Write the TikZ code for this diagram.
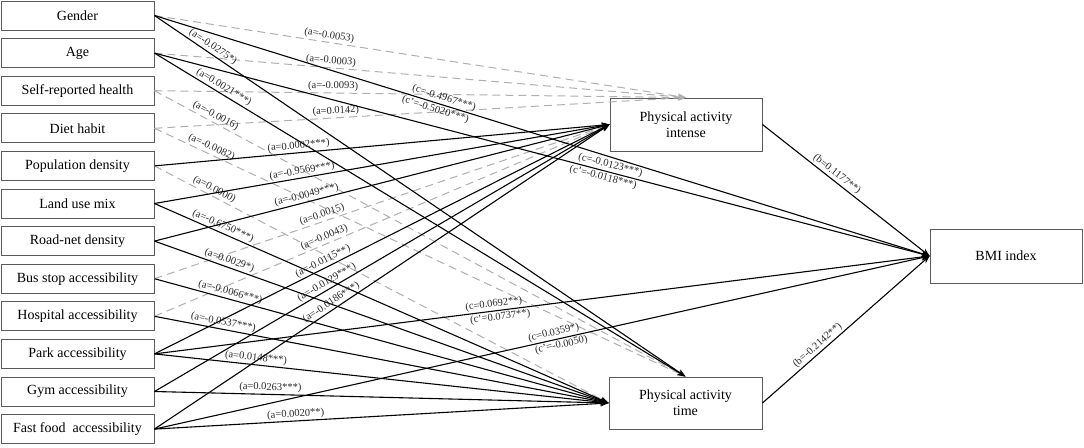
\documentclass[tikz,border=0pt]{standalone}
\usepackage{fontspec}
\setmainfont{Liberation Serif}
\usetikzlibrary{arrows.meta}
\definecolor{dg}{RGB}{175,175,175}
\definecolor{bd}{RGB}{90,90,90}
\definecolor{tx}{RGB}{40,40,40}
\begin{document}
\begin{tikzpicture}[x=1pt,y=-1pt,
 src/.style={draw=bd,line width=0.9pt,minimum width=153pt,minimum height=29pt,inner sep=0pt,font=\fontsize{14}{16}\selectfont},
 tgt/.style={draw=bd,line width=0.9pt,minimum width=152pt,minimum height=53pt,inner sep=0pt,align=center,font=\fontsize{14}{16}\selectfont},
 sol/.style={draw=black,line width=1.1pt,-{Stealth[length=8pt,width=6pt]}},
 dsh/.style={draw=dg,line width=1pt,dash pattern=on 8pt off 5pt,-{Stealth[length=8pt,width=6pt]}},
 lab/.style={font=\fontsize{10.5}{12}\selectfont,text=tx,sloped,inner sep=1.5pt}]
\useasboundingbox (0,0) rectangle (1084,447);
% source boxes
\node[src] (g)  at (77.5,15.5)  {Gender};
\node[src] (a)  at (77.5,53.1)  {Age};
\node[src] (s)  at (77.5,90.7)  {Self-reported health};
\node[src] (d)  at (77.5,128.3) {Diet habit};
\node[src] (p)  at (77.5,165.9) {Population density};
\node[src] (l)  at (77.5,203.5) {Land use mix};
\node[src] (r)  at (77.5,241.1) {Road-net density};
\node[src] (bs) at (77.5,278.7) {Bus stop accessibility};
\node[src] (h)  at (77.5,316.3) {Hospital accessibility};
\node[src] (pk) at (77.5,353.9) {Park accessibility};
\node[src] (gy) at (77.5,391.5) {Gym accessibility};
\node[src] (ff) at (77.5,429.1) {Fast food\ \ accessibility};
% target boxes
\node[tgt] (pi) at (686,124.5) {Physical activity\\intense};
\node[tgt,minimum width=153pt,minimum height=52pt] (pt) at (685.5,403) {Physical activity\\time};
\node[tgt,minimum height=54pt] (bmi) at (1006,256) {BMI index};
% dashed (non-significant)
\draw[dsh] (g.east) -- node[lab,pos=0.327,above]{(a=-0.0053)} (pi.north);
\draw[dsh] (a.east) -- node[lab,pos=0.331,above]{(a=-0.0003)} (pi.north);
\draw[dsh] (s.east) -- node[lab,pos=0.336,above]{(a=-0.0093)} (pi.north);
\draw[dsh] (d.east) -- node[lab,pos=0.342,above]{(a=0.0142)} (pi.north);
\draw[dsh] (s.east) -- node[lab,pos=0.109,above]{(a=-0.0016)} (pt.north);
\draw[dsh] (d.east) -- node[lab,pos=0.102,above]{(a=-0.0082)} (pt.north);
\draw[dsh] (p.east) -- node[lab,pos=0.125,above]{(a=0.0000)} (pt.west);
\draw[dsh] (bs.east) -- node[lab,pos=0.373,above]{(a=0.0015)} (pi.west);
\draw[dsh] (h.east) -- node[lab,pos=0.379,above]{(a=-0.0043)} (pi.west);
% solid (significant)
\draw[sol] (g.east) -- node[lab,pos=0.103,above]{(a=-0.0275*)} (pt.north);
\draw[sol] (a.east) -- node[lab,pos=0.124,above]{(a=0.0021***)} (pt.north);
\draw[sol] (g.east) -- node[lab,pos=0.371,above]{(c=-0.4967***)} node[lab,pos=0.365,below]{(c'=-0.5020***)} (bmi.west);
\draw[sol] (a.east) -- node[lab,pos=0.586,above]{(c=-0.0123***)} node[lab,pos=0.581,below]{(c'=-0.0118***)} (bmi.west);
\draw[sol] (p.east) -- node[lab,pos=0.318,above]{(a=0.0002***)} (pi.west);
\draw[sol] (l.east) -- node[lab,pos=0.327,above]{(a=-0.9569***)} (pi.west);
\draw[sol] (l.east) -- node[lab,pos=0.145,above]{(a=-0.6750***)} (pt.west);
\draw[sol] (r.east) -- node[lab,pos=0.338,above]{(a=-0.0049***)} (pi.west);
\draw[sol] (r.east) -- node[lab,pos=0.160,above]{(a=0.0029*)} (pt.west);
\draw[sol] (bs.east) -- node[lab,pos=0.163,above]{(a=-0.0066***)} (pt.west);
\draw[sol] (h.east) -- node[lab,pos=0.149,above]{(a=-0.0537***)} (pt.west);
\draw[sol] (pk.east) -- node[lab,pos=0.377,above]{(a=-0.0115**)} (pi.west);
\draw[sol] (pk.east) -- node[lab,pos=0.222,above]{(a=0.0148***)} (pt.west);
\draw[sol] (pk.east) -- node[lab,pos=0.439,above]{(c=0.0692**)} node[lab,pos=0.445,below]{(c'=0.0737**)} (bmi.west);
\draw[sol] (gy.east) -- node[lab,pos=0.386,above]{(a=-0.0129***)} (pi.west);
\draw[sol] (gy.east) -- node[lab,pos=0.255,above]{(a=0.0263***)} (pt.west);
\draw[sol] (ff.east) -- node[lab,pos=0.397,above]{(a=-0.0186***)} (pi.west);
\draw[sol] (ff.east) -- node[lab,pos=0.312,above]{(a=0.0020**)} (pt.west);
\draw[sol] (ff.east) -- node[lab,pos=0.517,above]{(c=0.0359*)} node[lab,pos=0.523,below]{(c'=-0.0050)} (bmi.west);
\draw[sol] (pi.east) -- node[lab,pos=0.42,above]{(b=0.1177**)} (bmi.west);
\draw[sol] (pt.east) -- node[lab,pos=0.357,above]{(b=-0.2142**)} (bmi.west);
\end{tikzpicture}
\end{document}
